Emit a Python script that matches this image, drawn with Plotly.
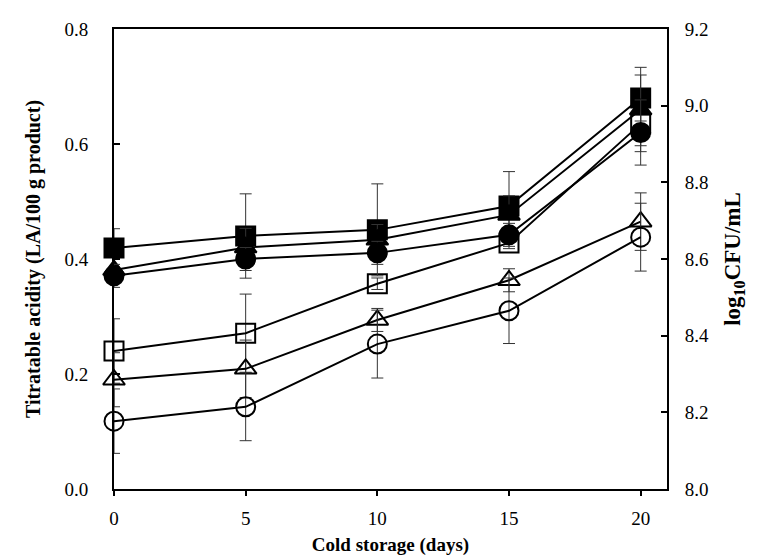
import plotly.graph_objects as go

days = [0, 5, 10, 15, 20]

# Titratable acidity (left axis) - open markers
acid_sq = [0.24, 0.271, 0.357, 0.428, 0.635]
acid_sq_sd = [0.056, 0.068, 0.01, 0.01, 0.038]
acid_tri = [0.19, 0.209, 0.294, 0.363, 0.465]
acid_tri_sd = [0.047, 0.05, 0.02, 0.02, 0.05]
acid_circ = [0.118, 0.143, 0.252, 0.31, 0.438]
acid_circ_sd = [0.056, 0.059, 0.059, 0.057, 0.059]

# log10 CFU/mL (right axis) - filled markers
cfu_sq = [8.629, 8.66, 8.676, 8.738, 9.02]
cfu_sq_sd = [0.05, 0.11, 0.12, 0.09, 0.06]
cfu_tri = [8.571, 8.63, 8.65, 8.715, 8.99]
cfu_tri_sd = [0.03, 0.05, 0.04, 0.05, 0.11]
cfu_circ = [8.556, 8.60, 8.616, 8.663, 8.93]
cfu_circ_sd = [0.03, 0.03, 0.03, 0.03, 0.085]

FONT = "Liberation Serif"
err_style = dict(type="data", visible=True, color="#333333", thickness=1, width=6)

fig = go.Figure()

def add(y, sd, symbol, axis):
    fig.add_trace(go.Scatter(
        x=days, y=y, mode="lines+markers", yaxis=axis,
        line=dict(color="black", width=2),
        marker=dict(symbol=symbol, size=19, color="black",
                    line=dict(color="black", width=2)),
        error_y=dict(array=sd, **err_style),
        cliponaxis=False, showlegend=False))

add(acid_sq, acid_sq_sd, "square-open", "y")
add(acid_tri, acid_tri_sd, "triangle-up-open", "y")
add(acid_circ, acid_circ_sd, "circle-open", "y")
add(cfu_sq, cfu_sq_sd, "square", "y2")
add(cfu_tri, cfu_tri_sd, "triangle-up", "y2")
add(cfu_circ, cfu_circ_sd, "circle", "y2")

fig.update_layout(
    width=760, height=560,
    margin=dict(l=106, r=101, t=21, b=79),
    plot_bgcolor="white", paper_bgcolor="white",
    font=dict(family=FONT, size=19, color="black"),
    xaxis=dict(range=[0, 21], tickvals=[0, 5, 10, 15, 20],
               showline=True, linecolor="black", linewidth=2, mirror=True,
               ticks="outside", ticklen=5, tickcolor="black", tickwidth=1.5,
               ticklabelstandoff=6,
               showgrid=False, zeroline=False,
               title=dict(text="<b>Cold storage (days)</b>", standoff=10,
                          font=dict(size=19))),
    yaxis=dict(range=[0, 0.8], tickvals=[0, 0.2, 0.4, 0.6, 0.8],
               ticktext=["0.0", "0.2", "0.4", "0.6", "0.8"],
               showline=True, linecolor="black", linewidth=2,
               ticks="inside", ticklen=6, tickcolor="black", tickwidth=1.5,
               ticklabelstandoff=20,
               showgrid=False, zeroline=False,
               title=dict(text="<b>Titratable acidity (LA/100 g product)</b>",
                          standoff=18, font=dict(size=20))),
    yaxis2=dict(range=[8.0, 9.2], tickvals=[8.0, 8.2, 8.4, 8.6, 8.8, 9.0, 9.2],
                ticktext=["8.0", "8.2", "8.4", "8.6", "8.8", "9.0", "9.2"],
                overlaying="y", side="right",
                showline=True, linecolor="black", linewidth=2,
                ticks="inside", ticklen=6, tickcolor="black", tickwidth=1.5,
                ticklabelstandoff=12,
                showgrid=False, zeroline=False,
                title=dict(text="<b>log<sub>10</sub>CFU/mL</b>",
                           standoff=16, font=dict(size=23))),
)

fig.write_html("out.html")
